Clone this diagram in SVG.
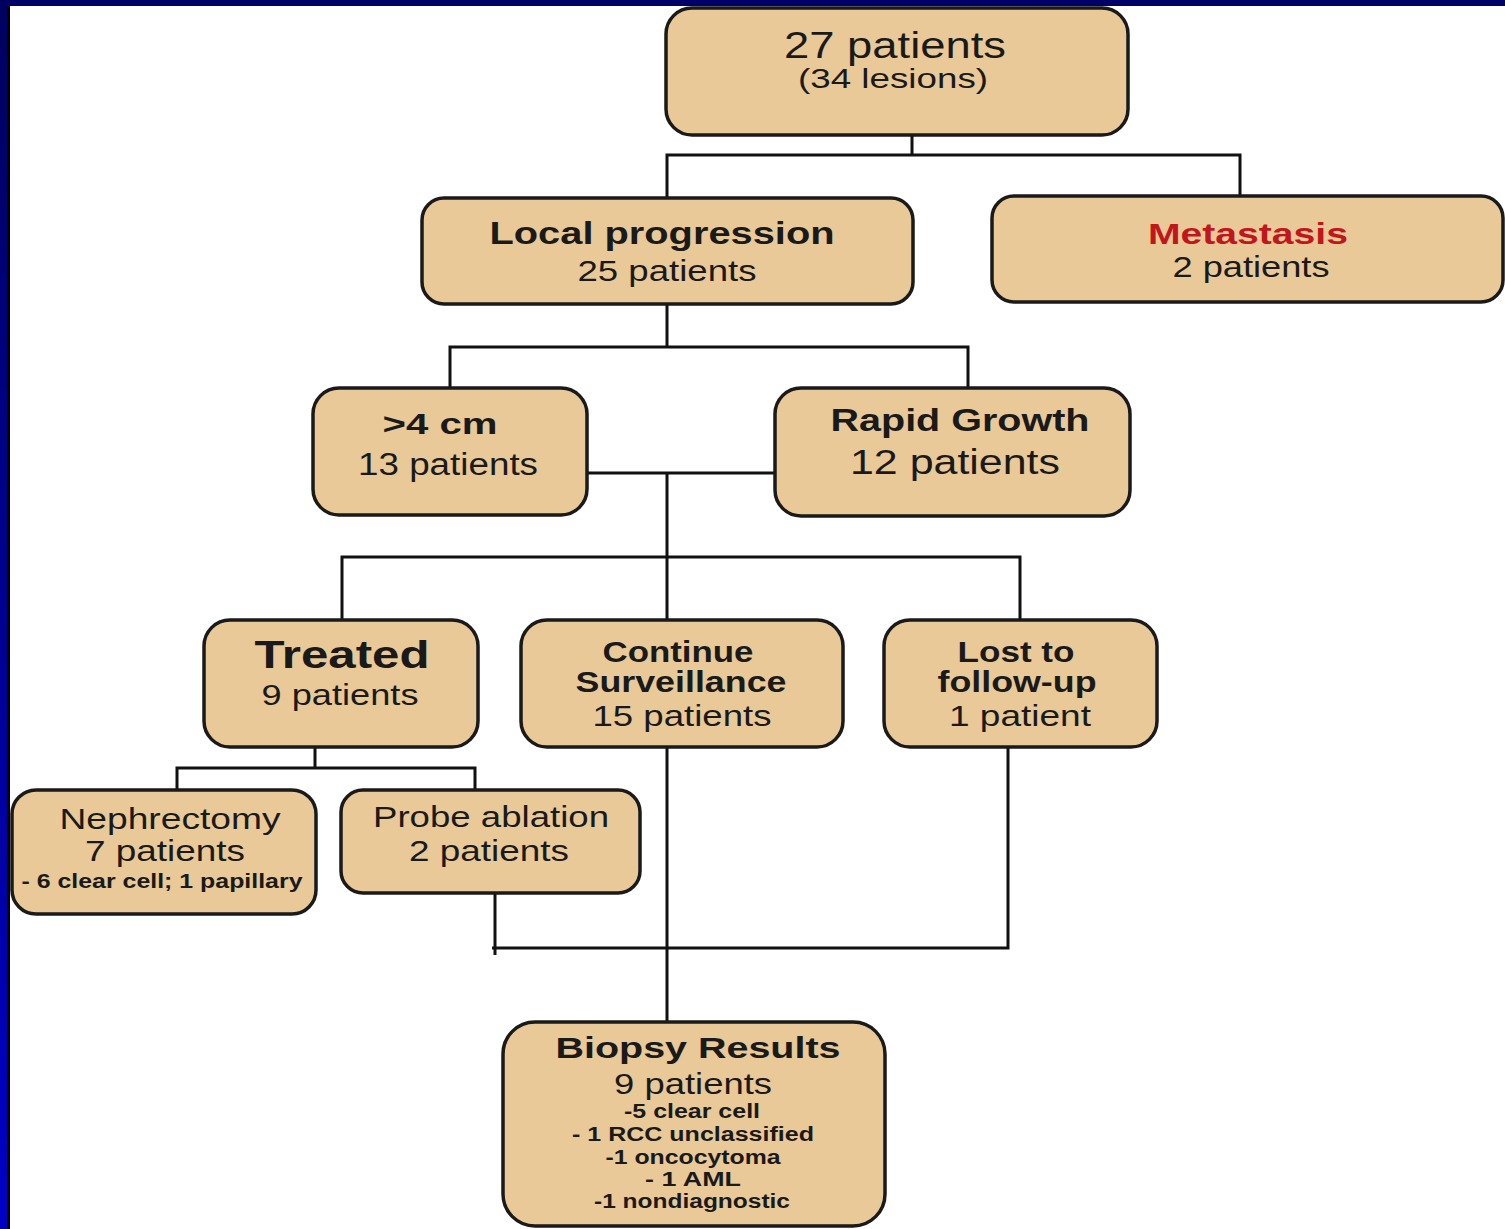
<svg xmlns="http://www.w3.org/2000/svg" width="1505" height="1229" viewBox="0 0 1505 1229">
<defs>
<linearGradient id="edge" x1="0" y1="0" x2="0" y2="1">
<stop offset="0" stop-color="#000060"/>
<stop offset="1" stop-color="#0000c4"/>
</linearGradient>
<style>
.box{fill:#e9c998;stroke:#1a1a1a;stroke-width:3.5}
.ln{fill:none;stroke:#111;stroke-width:3}
text{font-family:"Liberation Sans",Arial,sans-serif;fill:#1a1a1a;text-anchor:middle}
.b{font-weight:bold}
.sm{font-weight:bold;font-size:20px}
</style>
</defs>
<rect x="0" y="0" width="1505" height="1229" fill="#ffffff"/>
<rect x="0" y="0" width="1505" height="6" fill="#000066"/>
<rect x="0" y="0" width="7" height="1229" fill="url(#edge)"/>
<rect x="7" y="6" width="3" height="1223" fill="#000"/>

<g id="connectors" class="ln">
<path d="M912 135V155M667 198V155H1240V196"/>
<path d="M667 304V347M450 388V347H968V388"/>
<path d="M587 473H775M667 473V557M342 620V557H1020V620M667 557V620"/>
<path d="M315 747V768M177 790V768H475V790"/>
<path d="M667 747V1022"/>
<path d="M495 893V955M492 948H1008V747"/>
</g>

<g id="n-top"><rect class="box" x="666" y="8" width="462" height="127" rx="26"/>
<text x="895" y="58" font-size="36" textLength="222" lengthAdjust="spacingAndGlyphs">27 patients</text>
<text x="893" y="88" font-size="28" textLength="190" lengthAdjust="spacingAndGlyphs">(34 lesions)</text></g>

<g id="n-local"><rect class="box" x="422" y="198" width="491" height="106" rx="22"/>
<text class="b" x="662" y="244" font-size="32" textLength="345" lengthAdjust="spacingAndGlyphs">Local progression</text>
<text x="667" y="281" font-size="30" textLength="179" lengthAdjust="spacingAndGlyphs">25 patients</text></g>

<g id="n-meta"><rect class="box" x="992" y="196" width="511" height="106" rx="22"/>
<text class="b" x="1248" y="244" font-size="30" fill="#c0161c" style="fill:#c0161c" textLength="200" lengthAdjust="spacingAndGlyphs">Metastasis</text>
<text x="1251" y="277" font-size="30" textLength="157" lengthAdjust="spacingAndGlyphs">2 patients</text></g>

<g id="n-4cm"><rect class="box" x="313" y="388" width="274" height="127" rx="26"/>
<text class="b" x="440" y="434" font-size="30" textLength="115" lengthAdjust="spacingAndGlyphs">&gt;4 cm</text>
<text x="448" y="475" font-size="31" textLength="180" lengthAdjust="spacingAndGlyphs">13 patients</text></g>

<g id="n-rapid"><rect class="box" x="775" y="388" width="355" height="128" rx="26"/>
<text class="b" x="960" y="431" font-size="31" textLength="259" lengthAdjust="spacingAndGlyphs">Rapid Growth</text>
<text x="955" y="474" font-size="35" textLength="210" lengthAdjust="spacingAndGlyphs">12 patients</text></g>

<g id="n-treated"><rect class="box" x="204" y="620" width="274" height="127" rx="26"/>
<text class="b" x="342" y="668" font-size="38" textLength="175" lengthAdjust="spacingAndGlyphs">Treated</text>
<text x="340" y="705" font-size="29" textLength="157" lengthAdjust="spacingAndGlyphs">9 patients</text></g>

<g id="n-continue"><rect class="box" x="521" y="620" width="322" height="127" rx="26"/>
<text class="b" x="678" y="662" font-size="29" textLength="151" lengthAdjust="spacingAndGlyphs">Continue</text>
<text class="b" x="681" y="692" font-size="29" textLength="211" lengthAdjust="spacingAndGlyphs">Surveillance</text>
<text x="682" y="726" font-size="29" textLength="179" lengthAdjust="spacingAndGlyphs">15 patients</text></g>

<g id="n-lost"><rect class="box" x="884" y="620" width="273" height="127" rx="26"/>
<text class="b" x="1016" y="662" font-size="29" textLength="117" lengthAdjust="spacingAndGlyphs">Lost to</text>
<text class="b" x="1017" y="692" font-size="29" textLength="159" lengthAdjust="spacingAndGlyphs">follow-up</text>
<text x="1020" y="726" font-size="29" textLength="142" lengthAdjust="spacingAndGlyphs">1 patient</text></g>

<g id="n-nephrectomy"><rect class="box" x="12" y="790" width="304" height="124" rx="24"/>
<text x="170" y="829" font-size="29" textLength="221" lengthAdjust="spacingAndGlyphs">Nephrectomy</text>
<text x="165" y="861" font-size="29" textLength="160" lengthAdjust="spacingAndGlyphs">7 patients</text>
<text class="sm" x="162" y="888" textLength="281" lengthAdjust="spacingAndGlyphs">- 6 clear cell; 1 papillary</text></g>

<g id="n-probe"><rect class="box" x="341" y="790" width="299" height="103" rx="22"/>
<text x="491" y="827" font-size="29" textLength="236" lengthAdjust="spacingAndGlyphs">Probe ablation</text>
<text x="489" y="861" font-size="29" textLength="160" lengthAdjust="spacingAndGlyphs">2 patients</text></g>

<g id="n-biopsy"><rect class="box" x="503" y="1022" width="382" height="204" rx="32"/>
<text class="b" x="698" y="1058" font-size="30" textLength="285" lengthAdjust="spacingAndGlyphs">Biopsy Results</text>
<text x="693" y="1094" font-size="29" textLength="158" lengthAdjust="spacingAndGlyphs">9 patients</text>
<text class="sm" x="692" y="1118" textLength="136" lengthAdjust="spacingAndGlyphs">-5 clear cell</text>
<text class="sm" x="693" y="1141" textLength="242" lengthAdjust="spacingAndGlyphs">- 1 RCC unclassified</text>
<text class="sm" x="693" y="1164" textLength="175" lengthAdjust="spacingAndGlyphs">-1 oncocytoma</text>
<text class="sm" x="693" y="1186" textLength="96" lengthAdjust="spacingAndGlyphs">- 1 AML</text>
<text class="sm" x="692" y="1208" textLength="196" lengthAdjust="spacingAndGlyphs">-1 nondiagnostic</text></g>
</svg>
